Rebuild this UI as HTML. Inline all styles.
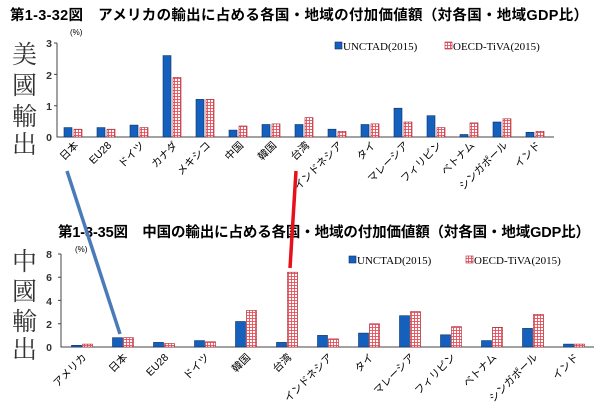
<!DOCTYPE html>
<html><head><meta charset="utf-8"><style>
html,body{margin:0;padding:0;background:#fff;}
svg{display:block;font-family:"Liberation Sans","Noto Sans CJK JP",sans-serif;}
.b{fill:#1560bd;stroke:#0b2f66;stroke-width:0.6}
.p{fill:url(#pg);stroke:#a02030;stroke-width:0.6}
.l{font-size:10.5px;text-anchor:end}
.t{font-size:10.5px;text-anchor:end;font-weight:bold;fill:#333}
.big{font-family:"Noto Serif CJK SC","Liberation Serif",serif;font-size:25px;fill:#333}
.lg{font-size:11px;font-family:"Liberation Serif",serif}
</style></head><body>
<svg width="600" height="416" viewBox="0 0 600 416">
<defs><pattern id="pg" width="3" height="3" patternUnits="userSpaceOnUse"><rect width="3" height="3" fill="#fff"/><rect width="3" height="0.9" fill="#e8505a"/><rect width="0.9" height="3" fill="#e8505a"/></pattern></defs>
<text x="10" y="20" font-size="14.5" font-weight="bold" textLength="578" lengthAdjust="spacing">第1-3-32図　アメリカの輸出に占める各国・地域の付加価値額（対各国・地域GDP比）</text>
<text x="70" y="35" font-size="8">(%)</text>
<g class="big"><text x="12" y="63">美</text><text x="12" y="94">國</text><text x="12" y="125">輸</text><text x="12" y="153">出</text></g>
<g class="t"><text x="52" y="141">0</text><text x="52" y="110">1</text><text x="52" y="79">2</text><text x="52" y="47">3</text></g>
<path d="M57,43V137H554M54,43H57M54,74.4H57M54,105.7H57" stroke="#444" fill="none"/>
<rect x="335" y="42" width="7" height="7" class="b"/><text x="343" y="50" class="lg">UNCTAD(2015)</text>
<rect x="445" y="42" width="7" height="7" class="p"/><text x="453" y="50" class="lg">OECD-TiVA(2015)</text>
<g>
<rect class="b" x="64" y="127.6" width="8" height="9.4"/><rect class="p" x="74" y="129.2" width="8" height="7.8"/>
<rect class="b" x="97" y="127.6" width="8" height="9.4"/><rect class="p" x="107" y="129.2" width="8" height="7.8"/>
<rect class="b" x="130" y="125.1" width="8" height="11.9"/><rect class="p" x="140" y="127.6" width="8" height="9.4"/>
<rect class="b" x="163" y="55.6" width="8" height="81.4"/><rect class="p" x="173" y="77.5" width="8" height="59.5"/>
<rect class="b" x="196" y="99.4" width="8" height="37.6"/><rect class="p" x="206" y="99.4" width="8" height="37.6"/>
<rect class="b" x="229" y="130.1" width="8" height="6.9"/><rect class="p" x="239" y="126" width="8" height="11"/>
<rect class="b" x="262" y="124.5" width="8" height="12.5"/><rect class="p" x="272" y="123.9" width="8" height="13.1"/>
<rect class="b" x="295" y="124.5" width="8" height="12.5"/><rect class="p" x="305" y="117.6" width="8" height="19.4"/>
<rect class="b" x="328" y="129.2" width="8" height="7.8"/><rect class="p" x="338" y="131.4" width="8" height="5.6"/>
<rect class="b" x="361" y="124.5" width="8" height="12.5"/><rect class="p" x="371" y="123.9" width="8" height="13.1"/>
<rect class="b" x="394" y="108.2" width="8" height="28.8"/><rect class="p" x="404" y="122" width="8" height="15"/>
<rect class="b" x="427" y="115.7" width="8" height="21.3"/><rect class="p" x="437" y="127.6" width="8" height="9.4"/>
<rect class="b" x="460" y="134.5" width="8" height="2.5"/><rect class="p" x="470" y="122.9" width="8" height="14.1"/>
<rect class="b" x="493" y="122" width="8" height="15"/><rect class="p" x="503" y="118.8" width="8" height="18.2"/>
<rect class="b" x="526" y="132.3" width="8" height="4.7"/><rect class="p" x="536" y="131.4" width="8" height="5.6"/>
</g>
<g class="l">
<text transform="translate(79,146) rotate(-45)">日本</text>
<text transform="translate(112,146) rotate(-45)">EU28</text>
<text transform="translate(145,146) rotate(-45)">ドイツ</text>
<text transform="translate(178,146) rotate(-45)">カナダ</text>
<text transform="translate(211,146) rotate(-45)">メキシコ</text>
<text transform="translate(244,146) rotate(-45)">中国</text>
<text transform="translate(277,146) rotate(-45)">韓国</text>
<text transform="translate(310,146) rotate(-45)">台湾</text>
<text transform="translate(343,146) rotate(-45)">インドネシア</text>
<text transform="translate(376,146) rotate(-45)">タイ</text>
<text transform="translate(409,146) rotate(-45)">マレーシア</text>
<text transform="translate(442,146) rotate(-45)">フィリピン</text>
<text transform="translate(475,146) rotate(-45)">ベトナム</text>
<text transform="translate(508,146) rotate(-45)">シンガポール</text>
<text transform="translate(541,146) rotate(-45)">インド</text>
</g>

<text x="58" y="237" font-size="14.5" font-weight="bold" textLength="532" lengthAdjust="spacing">第1-3-35図　中国の輸出に占める各国・地域の付加価値額（対各国・地域GDP比）</text>
<text x="75" y="252" font-size="8">(%)</text>
<g class="big"><text x="12" y="270">中</text><text x="12" y="300">國</text><text x="12" y="330">輸</text><text x="12" y="358">出</text></g>
<g class="t"><text x="52" y="351">0</text><text x="52" y="328">2</text><text x="52" y="305">4</text><text x="52" y="281">6</text><text x="52" y="258">8</text></g>
<path d="M61,254V347H594M58,254H61M58,277.2H61M58,300.4H61M58,323.8H61" stroke="#444" fill="none"/>
<rect x="349" y="256" width="7" height="7" class="b"/><text x="357" y="264" class="lg">UNCTAD(2015)</text>
<rect x="466" y="256" width="7" height="7" class="p"/><text x="474" y="264" class="lg">OECD-TiVA(2015)</text>
<g>
<rect class="b" x="71.5" y="345.3" width="10" height="1.7"/><rect class="p" x="82.5" y="344.1" width="10" height="2.9"/>
<rect class="b" x="112.5" y="337.7" width="10" height="9.3"/><rect class="p" x="123.5" y="337.7" width="10" height="9.3"/>
<rect class="b" x="153.5" y="342.4" width="10" height="4.6"/><rect class="p" x="164.5" y="343.5" width="10" height="3.5"/>
<rect class="b" x="194.5" y="340.6" width="10" height="6.4"/><rect class="p" x="205.5" y="341.8" width="10" height="5.2"/>
<rect class="b" x="235.5" y="321.5" width="10" height="25.5"/><rect class="p" x="246.5" y="310.5" width="10" height="36.5"/>
<rect class="b" x="276.5" y="342.4" width="10" height="4.6"/><rect class="p" x="287.5" y="272.2" width="10" height="74.8"/>
<rect class="b" x="317.5" y="335.4" width="10" height="11.6"/><rect class="p" x="328.5" y="338.9" width="10" height="8.1"/>
<rect class="b" x="358.5" y="333.1" width="10" height="13.9"/><rect class="p" x="369.5" y="323.8" width="10" height="23.2"/>
<rect class="b" x="399.5" y="315.7" width="10" height="31.3"/><rect class="p" x="410.5" y="311.6" width="10" height="35.4"/>
<rect class="b" x="440.5" y="334.8" width="10" height="12.2"/><rect class="p" x="451.5" y="326.7" width="10" height="20.3"/>
<rect class="b" x="481.5" y="340.6" width="10" height="6.4"/><rect class="p" x="492.5" y="327.3" width="10" height="19.7"/>
<rect class="b" x="522.5" y="328.4" width="10" height="18.6"/><rect class="p" x="533.5" y="314.5" width="10" height="32.5"/>
<rect class="b" x="563.5" y="344.1" width="10" height="2.9"/><rect class="p" x="574.5" y="344.1" width="10" height="2.9"/>
</g>
<g class="l">
<text transform="translate(87,358) rotate(-45)">アメリカ</text>
<text transform="translate(128,358) rotate(-45)">日本</text>
<text transform="translate(169,358) rotate(-45)">EU28</text>
<text transform="translate(210,358) rotate(-45)">ドイツ</text>
<text transform="translate(251,358) rotate(-45)">韓国</text>
<text transform="translate(292,358) rotate(-45)">台湾</text>
<text transform="translate(333,358) rotate(-45)">インドネシア</text>
<text transform="translate(374,358) rotate(-45)">タイ</text>
<text transform="translate(415,358) rotate(-45)">マレーシア</text>
<text transform="translate(456,358) rotate(-45)">フィリピン</text>
<text transform="translate(497,358) rotate(-45)">ベトナム</text>
<text transform="translate(538,358) rotate(-45)">シンガポール</text>
<text transform="translate(579,358) rotate(-45)">インド</text>
</g>
<line x1="67" y1="171" x2="120" y2="334" stroke="#4a7ab8" stroke-width="3.5"/>
<line x1="296" y1="171" x2="290" y2="268" stroke="#e8101a" stroke-width="3.5"/>
</svg>
</body></html>
